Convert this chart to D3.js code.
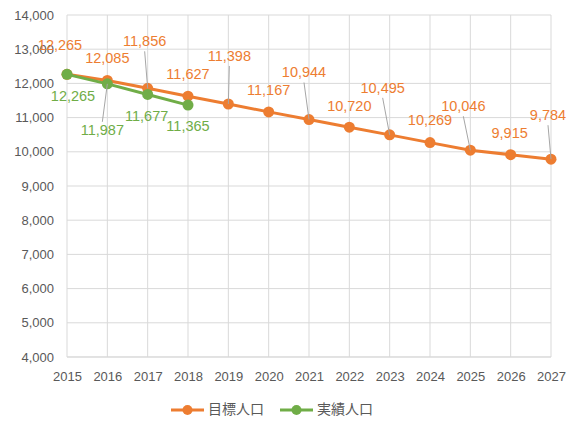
<!DOCTYPE html>
<html>
<head>
<meta charset="utf-8">
<script src="https://cdn.jsdelivr.net/npm/d3@7"></script>
<style>
  body { margin: 0; background: #fff; }
  text { font-family: "Liberation Sans", Arial, sans-serif; }
</style>
</head>
<body>
<div id="chart"></div>
<script>
var years = [2015, 2016, 2017, 2018, 2019, 2020, 2021, 2022, 2023, 2024, 2025, 2026, 2027];
var target = [12265, 12085, 11856, 11627, 11398, 11167, 10944, 10720, 10495, 10269, 10046, 9915, 9784];
var actualYears = [2015, 2016, 2017, 2018];
var actual = [12265, 11987, 11677, 11365];
var yTicks = [4000, 5000, 6000, 7000, 8000, 9000, 10000, 11000, 12000, 13000, 14000];
var seriesNames = ["目標人口", "実績人口"];

// label offsets (pixels from the point), as in the original
var targetOffsets = [[-7,-28],[0,-21],[-3,-46],[0,-21],[1,-47],[0,-21],[-5,-46],[0,-20],[-7,-46],[0,-21],[-7,-43],[-1,-21],[-3,-43]];
var actualOffsets = [[6,23],[-5,47],[-1,23],[0,22]];

var orange = "#ED7D31", green = "#70AD47";
var W = 568, H = 424;
var margin = {top: 15, right: 17, bottom: 67, left: 67};
var width = W - margin.left - margin.right;
var height = H - margin.top - margin.bottom;

var svg = d3.select("#chart").append("svg")
  .attr("width", W).attr("height", H)
  .append("g")
  .attr("transform", "translate(" + margin.left + "," + margin.top + ")");

var x = d3.scaleLinear().domain([2015, 2027]).range([0, width]);
var y = d3.scaleLinear().domain([4000, 14000]).range([height, 0]);

// grid
svg.selectAll("line.hgrid").data(yTicks).enter().append("line")
  .attr("x1", 0).attr("x2", width)
  .attr("y1", function(d) { return y(d); }).attr("y2", function(d) { return y(d); })
  .attr("stroke", "#d9d9d9").attr("stroke-width", 1);
svg.selectAll("line.vgrid").data(years).enter().append("line")
  .attr("x1", function(d) { return x(d); }).attr("x2", function(d) { return x(d); })
  .attr("y1", 0).attr("y2", height)
  .attr("stroke", "#d9d9d9").attr("stroke-width", 1);

// axes
var yAxis = svg.append("g").call(d3.axisLeft(y).tickValues(yTicks).tickSize(0).tickPadding(13).tickFormat(d3.format(",")));
var xAxis = svg.append("g").attr("transform", "translate(0," + height + ")")
  .call(d3.axisBottom(x).tickValues(years).tickSize(0).tickPadding(15).tickFormat(d3.format("d")));
[yAxis, xAxis].forEach(function(a) {
  a.select(".domain").remove();
  a.selectAll("text").attr("fill", "#595959").style("font-size", "13px");
});
svg.append("line").attr("x1", 0).attr("x2", width).attr("y1", height).attr("y2", height)
  .attr("stroke", "#d9d9d9");

var line = d3.line().x(function(d) { return x(d[0]); }).y(function(d) { return y(d[1]); });

function drawSeries(xs, vals, color) {
  var pts = xs.map(function(v, i) { return [v, vals[i]]; });
  svg.append("path").datum(pts).attr("d", line)
    .attr("fill", "none").attr("stroke", color).attr("stroke-width", 3).attr("stroke-linejoin", "round");
  svg.selectAll(null).data(pts).enter().append("circle")
    .attr("cx", function(d) { return x(d[0]); })
    .attr("cy", function(d) { return y(d[1]); })
    .attr("r", 5.5).attr("fill", color);
  return pts;
}

function drawLabels(pts, color, offsets) {
  var g = svg.append("g");
  pts.forEach(function(d, i) {
    var px = x(d[0]), py = y(d[1]);
    var o = offsets[i];
    if (Math.abs(o[1]) > 30) {
      var ly = o[1] < 0 ? py + o[1] + 9 : py + o[1] - 9;
      g.append("line").attr("x1", px + o[0]).attr("y1", ly)
        .attr("x2", px).attr("y2", py)
        .attr("stroke", "#a6a6a6").attr("stroke-width", 1);
    }
    g.append("text").attr("x", px + o[0]).attr("y", py + o[1])
      .attr("text-anchor", "middle").attr("dominant-baseline", "middle")
      .attr("fill", color).style("font-size", "14.5px")
      .text(d3.format(",")(d[1]));
  });
}

var tp = drawSeries(years, target, orange);
var ap = drawSeries(actualYears, actual, green);
drawLabels(tp, orange, targetOffsets);
drawLabels(ap, green, actualOffsets);

// legend
var legend = d3.select("svg").append("g").attr("transform", "translate(0,410)");
var legendItems = [{name: seriesNames[0], color: orange, x: 171}, {name: seriesNames[1], color: green, x: 280}];
legendItems.forEach(function(it) {
  legend.append("line").attr("x1", it.x).attr("x2", it.x + 33).attr("y1", 0).attr("y2", 0)
    .attr("stroke", it.color).attr("stroke-width", 3);
  legend.append("circle").attr("cx", it.x + 16.5).attr("cy", 0).attr("r", 5).attr("fill", it.color);
  legend.append("text").attr("x", it.x + 37).attr("y", 0).attr("dominant-baseline", "middle")
    .attr("fill", "#595959").style("font-size", "14px")
    .style("font-family", "'Noto Sans CJK JP', sans-serif")
    .text(it.name);
});
</script>
</body>
</html>
